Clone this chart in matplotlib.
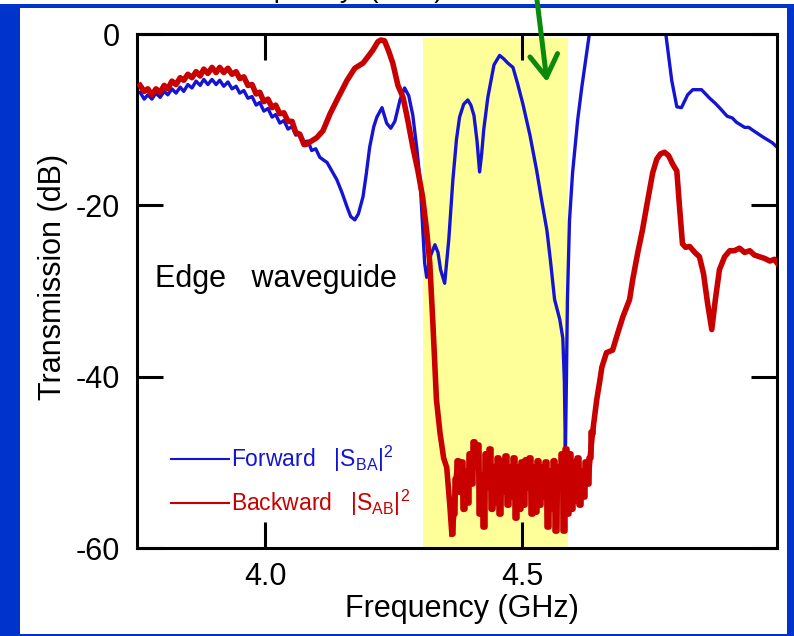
import matplotlib
matplotlib.use("Agg")
import matplotlib.pyplot as plt
import numpy as np
from matplotlib.lines import Line2D
from matplotlib.patches import Rectangle, FancyArrowPatch

plt.rcParams['font.family'] = ['Liberation Sans', 'DejaVu Sans']
plt.rcParams['axes.unicode_minus'] = False

# ---- data ----
x_ticks = [4.0, 4.5]
y_ticks = [0, -20, -40, -60]
band = [4.306, 4.590]          # highlighted (yellow) frequency band

# forward |S_BA|^2
fwd_freq = [3.756, 3.764, 3.771, 3.779, 3.787, 3.795, 3.803, 3.810, 3.818, 3.826,
            3.834, 3.841, 3.849, 3.857, 3.865, 3.873, 3.880, 3.888, 3.896, 3.904,
            3.911, 3.919, 3.927, 3.935, 3.943, 3.950, 3.958, 3.966, 3.974, 3.982,
            3.989, 3.997, 4.005, 4.013, 4.020, 4.028, 4.036, 4.044, 4.052, 4.059,
            4.067, 4.075, 4.083, 4.090, 4.098, 4.106,
            4.120, 4.139, 4.149, 4.159, 4.166, 4.174, 4.181, 4.190, 4.196, 4.203,
            4.211, 4.217, 4.227, 4.236, 4.244, 4.252, 4.262, 4.271, 4.279, 4.287,
            4.295, 4.301, 4.306, 4.310, 4.314, 4.322, 4.330, 4.336, 4.341, 4.349,
            4.357, 4.365, 4.372, 4.378, 4.386, 4.394, 4.400, 4.406, 4.412, 4.417,
            4.421, 4.425, 4.433, 4.445, 4.456, 4.464, 4.472, 4.482, 4.491, 4.501,
            4.515, 4.528, 4.538, 4.548, 4.555, 4.563, 4.573, 4.579, 4.582, 4.584,
            4.586, 4.588, 4.592, 4.598, 4.608, 4.616, 4.629, 4.637, 4.651, 4.768,
            4.775, 4.781, 4.791, 4.801, 4.810, 4.822, 4.832, 4.849, 4.865, 4.876,
            4.884, 4.899, 4.909, 4.917, 4.933, 4.941, 4.948, 4.968, 4.987, 4.996]
fwd_db = [-6.8, -7.6, -7.1, -7.6, -6.9, -7.4, -6.7, -7.1, -6.4, -6.9,
          -6.2, -6.7, -5.9, -6.3, -5.5, -6.0, -5.3, -5.9, -5.3, -5.9,
          -5.4, -6.1, -5.6, -6.4, -6.1, -6.9, -6.6, -7.5, -7.3, -8.3,
          -8.0, -9.0, -8.7, -9.7, -9.4, -10.4, -10.1, -11.1, -10.8, -11.8,
          -11.7, -12.6, -12.5, -13.6, -13.4, -14.4,
          -15.0, -17.0, -18.5, -20.2, -21.3, -21.7, -21.0, -19.0, -16.5, -13.2,
          -10.8, -9.7, -8.6, -10.4, -11.0, -10.2, -7.7, -6.3, -7.2, -9.5,
          -13.5, -17.0, -22.5, -26.7, -28.4, -25.8, -24.6, -25.5, -27.5, -29.1,
          -24.0, -17.0, -12.3, -9.7, -8.2, -7.7, -8.3, -9.5, -12.5, -16.1,
          -14.0, -11.2, -7.4, -3.6, -2.5, -2.9, -3.4, -3.9, -5.8, -8.1,
          -11.8, -15.9, -19.5, -22.9, -26.5, -31.0, -33.3, -35.5, -40.5, -48.6,
          -40.5, -31.0, -21.8, -16.2, -10.0, -6.2, -0.7, 2.8, 6.0, 6.0,
          2.2, -0.7, -5.4, -8.5, -8.6, -7.1, -6.5, -6.5, -7.5, -8.1,
          -8.6, -9.6, -9.8, -10.3, -10.9, -10.9, -11.2, -12.0, -12.7, -13.2]

# backward |S_AB|^2
bwd_freq = [3.756, 3.764, 3.771, 3.779, 3.787, 3.795, 3.803, 3.810, 3.818, 3.826,
            3.834, 3.841, 3.849, 3.857, 3.865, 3.873, 3.880, 3.888, 3.896, 3.904,
            3.911, 3.919, 3.927, 3.935, 3.943, 3.950, 3.958, 3.966, 3.974, 3.982,
            3.989, 3.997, 4.005, 4.013, 4.020, 4.028, 4.036, 4.044, 4.052, 4.059,
            4.067, 4.075,
            4.079, 4.087, 4.100, 4.112, 4.126, 4.141, 4.159, 4.174, 4.190, 4.199,
            4.209, 4.219, 4.225, 4.232, 4.240, 4.248, 4.258, 4.268, 4.277, 4.287,
            4.297, 4.306, 4.314, 4.320, 4.326, 4.333, 4.340, 4.347, 4.353, 4.359,
            4.363,
            4.367, 4.371, 4.375, 4.379, 4.383, 4.386, 4.390, 4.394, 4.398, 4.402,
            4.406, 4.410, 4.414, 4.418, 4.422, 4.425, 4.429, 4.433, 4.437, 4.441,
            4.445, 4.449, 4.453, 4.457, 4.461, 4.464, 4.468, 4.472, 4.476, 4.480,
            4.484, 4.488, 4.492, 4.496, 4.500, 4.503, 4.507, 4.511, 4.515, 4.519,
            4.523, 4.527, 4.531, 4.535, 4.539, 4.542, 4.546, 4.550, 4.554, 4.558,
            4.562, 4.566, 4.570, 4.574, 4.578, 4.581, 4.585, 4.589, 4.593, 4.597,
            4.601, 4.605, 4.609, 4.613, 4.617, 4.620, 4.624, 4.628, 4.632,
            4.637, 4.645, 4.651, 4.655, 4.664, 4.676, 4.686, 4.696, 4.709, 4.715,
            4.725, 4.734, 4.744, 4.754, 4.762, 4.769, 4.777, 4.785, 4.793, 4.801,
            4.806, 4.812, 4.818, 4.826, 4.836, 4.845, 4.853, 4.861, 4.869, 4.876,
            4.884, 4.894, 4.904, 4.913, 4.923, 4.933, 4.943, 4.952, 4.962, 4.972,
            4.982, 4.991, 4.997]
bwd_db = [-6.0, -6.7, -6.4, -7.1, -6.4, -6.8, -6.0, -6.4, -5.5, -5.9,
          -5.1, -5.4, -4.7, -5.1, -4.4, -4.9, -4.1, -4.6, -3.9, -4.5,
          -3.9, -4.5, -4.0, -4.7, -4.4, -5.2, -5.0, -6.0, -5.9, -7.0,
          -6.8, -7.9, -7.6, -8.6, -8.3, -9.3, -9.2, -10.2, -10.2, -11.5,
          -11.7, -12.9,
          -12.9, -12.6, -12.1, -11.3, -9.3, -7.5, -5.4, -4.0, -3.4, -2.7,
          -1.9, -0.9, -0.7, -0.8, -2.0, -3.4, -6.0, -7.4, -10.0, -13.2,
          -16.0, -19.0, -23.0, -26.7, -33.7, -42.7, -46.6, -49.5, -50.6, -55.0,
          -58.4,
          -56.0, -52.0, -49.8, -53.5, -50.0, -55.5, -51.0, -54.7, -49.0, -52.5,
          -47.6, -50.5, -48.0, -56.0, -51.5, -57.5, -49.0, -53.0, -48.5, -55.5,
          -50.5, -54.8, -49.5, -56.0, -49.8, -53.5, -49.3, -55.0, -50.5, -54.0,
          -49.5, -56.5, -50.5, -55.5, -50.0, -55.0, -49.7, -53.0, -49.5, -56.0,
          -50.5, -55.8, -49.8, -55.0, -50.5, -54.0, -50.0, -57.5, -51.0, -55.5,
          -49.8, -58.0, -50.5, -53.0, -49.0, -58.0, -48.5, -56.0, -49.0, -55.5,
          -50.0, -54.5, -49.5, -55.0, -51.0, -54.0, -50.0, -52.5, -49.5,
          -46.5, -42.7, -40.5, -38.9, -37.2, -36.9, -34.9, -33.0, -31.0, -28.7,
          -25.5, -22.9, -19.5, -16.2, -14.6, -14.0, -13.8, -14.2, -15.2, -16.0,
          -20.0, -24.5, -24.9, -24.8, -25.5, -26.0, -28.0, -31.5, -34.5, -31.0,
          -27.5, -26.0, -25.3, -25.3, -25.0, -25.5, -25.3, -25.8, -26.0, -26.2,
          -26.5, -26.3, -26.8]

assert len(fwd_freq) == len(fwd_db), (len(fwd_freq), len(fwd_db))
assert len(bwd_freq) == len(bwd_db), (len(bwd_freq), len(bwd_db))

blue = '#1414D2'
red = '#C80000'

fig = plt.figure(figsize=(7.94, 6.36), dpi=100)
fig.patch.set_facecolor('white')
ax = fig.add_axes([137/794, 88/636, 640/794, 514/636])

ax.axvspan(band[0], band[1], ymin=0, ymax=0.992, color='#FFFF99', lw=0, zorder=0)
ax.plot(fwd_freq, fwd_db, color=blue, lw=2.4, zorder=2)
ax.plot(bwd_freq, bwd_db, color=red, lw=4.0, zorder=3)

# the noisy stop-band part of the backward trace looks blocky -> step overlay
bf = np.array(bwd_freq)
bd = np.array(bwd_db)
noisy = (bf >= 4.36) & (bf <= 4.64)
ax.plot(bf[noisy], bd[noisy], color=red, lw=4.0, drawstyle='steps-mid', zorder=3)

ax.set_xlim(3.75, 4.996)
ax.set_ylim(-60, 0)
ax.set_xticks(x_ticks)
ax.set_xticklabels(['%.1f' % v for v in x_ticks])
ax.set_yticks(y_ticks)
ax.set_yticklabels(['%d' % v for v in y_ticks])
ax.tick_params(direction='in', length=18.5, width=2.2, top=True, right=True,
               labelsize=22, colors='black')
ax.tick_params(axis='x', pad=10)
ax.tick_params(axis='y', pad=12)
for s in ax.spines.values():
    s.set_linewidth(2.2)

ax.set_xlabel('Frequency (GHz)', fontsize=22)
ax.set_ylabel('Transmission (dB)', fontsize=22)
ax.xaxis.set_label_coords(0.507, -0.09)
ax.yaxis.set_label_coords(-0.108, 0.527)

ax.text(0.028, 0.508, 'Edge   waveguide', transform=ax.transAxes, fontsize=22,
        va='baseline', ha='left')

handles = [Line2D([], [], color=blue, lw=1.5), Line2D([], [], color=red, lw=1.5)]
labels = [r'Forward   |S$_\mathregular{BA}$|$^\mathregular{2}$',
          r'Backward   |S$_\mathregular{AB}$|$^\mathregular{2}$']
ax.legend(handles, labels, loc='lower left', bbox_to_anchor=(0.036, 0.036),
          frameon=False, fontsize=16.5, handlelength=2.5, handletextpad=0.1,
          labelspacing=0.6, borderpad=0, labelcolor='linecolor')

# slide frame and the green pointer arrow
fig.text(443/794, 1 + 3/636, 'Frequency  (GHz)', ha='right', va='baseline',
         fontsize=20, zorder=1)
W, H = 794, 636
frame = dict(transform=fig.transFigure, color='#0033CC', lw=0, zorder=5)
fig.patches.append(Rectangle((0, 0), 20/W, (H-4)/H, **frame))
fig.patches.append(Rectangle((787/W, 0), 7/W, (H-4)/H, **frame))
fig.patches.append(Rectangle((0, (H-7.5)/H), 1, 3.5/H, **frame))
fig.patches.append(Rectangle((0, 0), 1, 2.5/H, **frame))

arrow = FancyArrowPatch((537/W, 1.0), (547/W, (H-82)/H), transform=fig.transFigure,
                        arrowstyle='->,head_length=16,head_width=10', mutation_scale=1,
                        color='#0A8A0A', lw=3.6, zorder=6, shrinkA=0, shrinkB=0)
fig.patches.append(arrow)

fig.savefig('out.png', dpi=100)
